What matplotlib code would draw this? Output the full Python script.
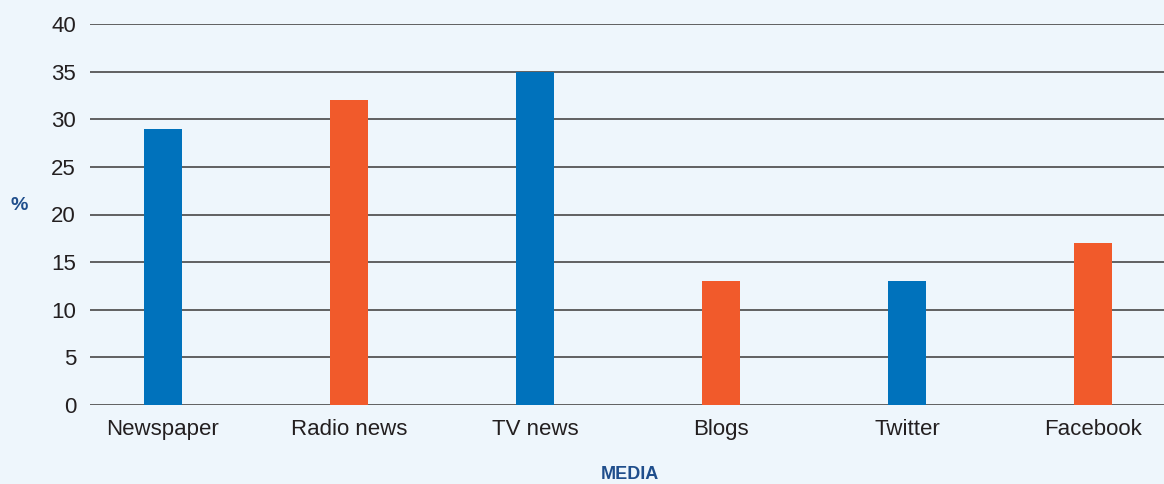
import matplotlib
matplotlib.use("Agg")
import matplotlib.pyplot as plt

categories = ["Newspaper", "Radio news", "TV news", "Blogs", "Twitter", "Facebook"]
values = [29, 32, 35, 13, 13, 17]
colors = ["#0072BC", "#F15A2B", "#0072BC", "#F15A2B", "#0072BC", "#F15A2B"]
yticks = [0, 5, 10, 15, 20, 25, 30, 35, 40]

plt.rcParams['font.family'] = ['Liberation Sans', 'DejaVu Sans']
bg = "#EEF6FC"
fig = plt.figure(figsize=(11.64, 4.84), dpi=100, facecolor=bg)
ax = fig.add_axes([90/1164, 79/484, 1 - 90/1164, (405-24)/484])
ax.set_facecolor(bg)

x = list(range(len(categories)))
ax.bar(x, values, width=38/186, color=colors, zorder=3)
ax.set_xlim(-73/186, (1164-163)/186)
ax.set_ylim(0, 40)
ax.set_yticks(yticks)
ax.yaxis.grid(True, color="#555555", linewidth=1.3, zorder=1)
ax.set_axisbelow(True)
for s in ax.spines.values():
    s.set_visible(False)
ax.tick_params(axis='both', length=0, labelsize=16, labelcolor="#231F20")
ax.tick_params(axis='y', pad=10)
ax.tick_params(axis='x', pad=10)
ax.set_xticks(x)
ax.set_xticklabels(categories)

fig.text(19.5/1164, 1 - 205/484, "%", color="#1F4E8C", fontsize=14, fontweight='bold', ha='center', va='center')
fig.text(630/1164, 1/484, "MEDIA", color="#1F4E8C", fontsize=13, fontweight='bold', ha='center', va='bottom')

fig.savefig("out.png", dpi=100, facecolor=bg)
